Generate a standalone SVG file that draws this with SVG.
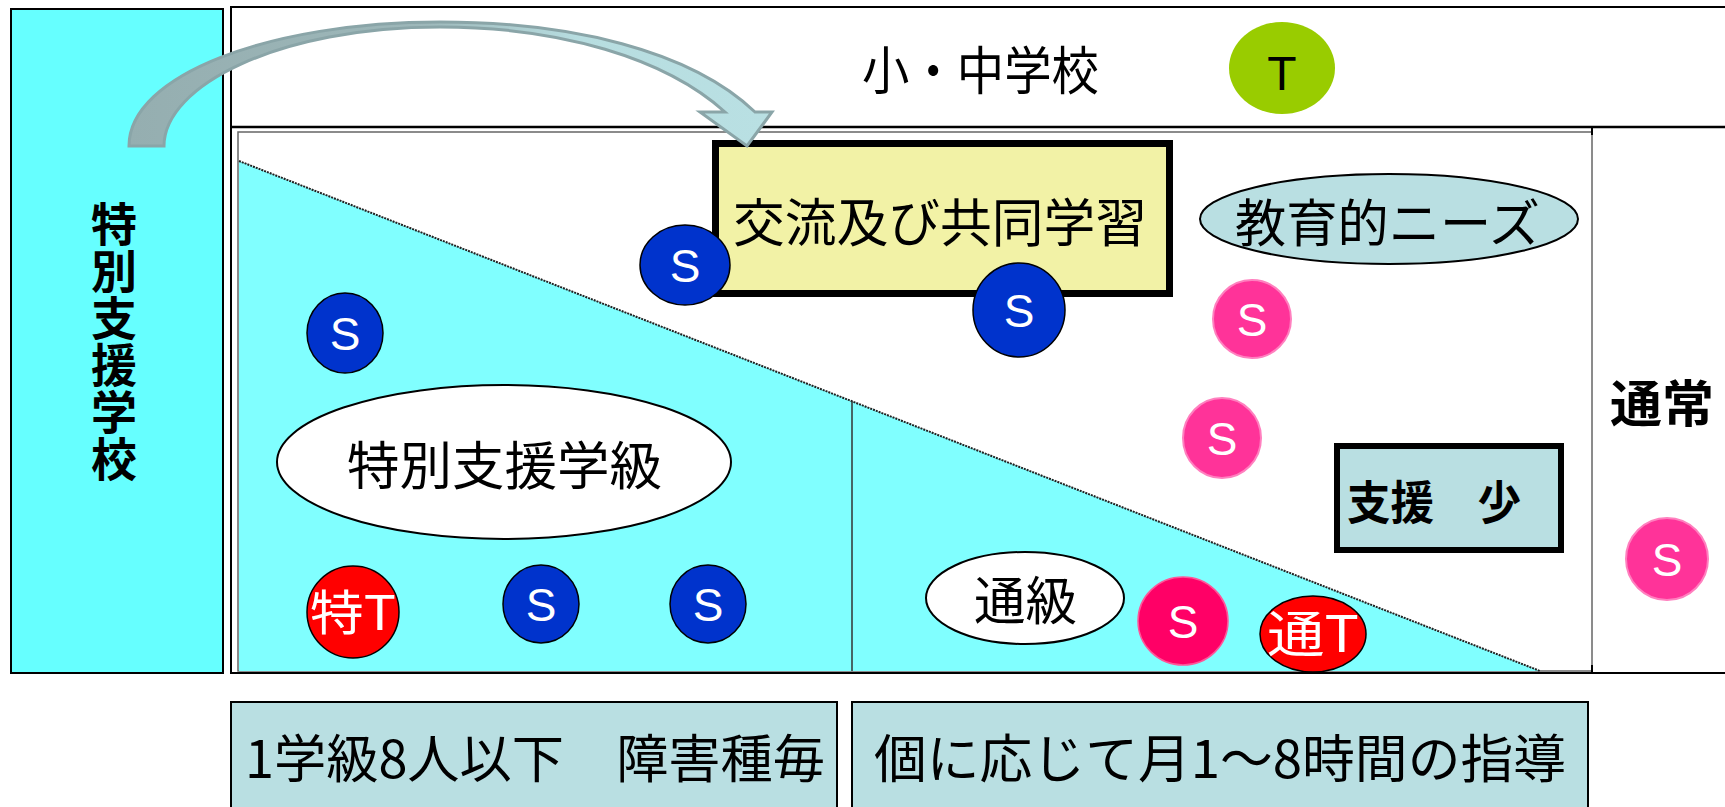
<svg xmlns="http://www.w3.org/2000/svg" width="1725" height="807" viewBox="0 0 1725 807">
<defs>
<style>
.jp{font-family:"Noto Sans CJK JP","Noto Sans CJK SC",sans-serif;fill:#000}
.jpb{font-family:"Noto Sans CJK JP","Noto Sans CJK SC",sans-serif;font-weight:bold;fill:#000}
.s{font-family:"Liberation Sans",Arial,sans-serif;font-size:46px;fill:#fff;text-anchor:middle}
.blue{fill:#0033CC;stroke:#000;stroke-width:1.5}
.pink{fill:#FF3399;stroke:#FF80BF;stroke-width:2}
.red{fill:#FF0000;stroke:#000;stroke-width:1.5}
.lb{fill:#B9DFE2;stroke:#000}
</style>
<linearGradient id="arrowGrad" x1="129" y1="0" x2="772" y2="0" gradientUnits="userSpaceOnUse">
<stop offset="0" stop-color="#95AEB0"/>
<stop offset="0.45" stop-color="#9DB7B9"/>
<stop offset="0.7" stop-color="#B7DDE0"/>
<stop offset="1" stop-color="#B9E0E3"/>
</linearGradient>
</defs>

<rect width="1725" height="807" fill="#fff"/>

<g id="special-school">
<rect x="11" y="9" width="212" height="664" fill="#66FFFF" stroke="#000" stroke-width="2"/>
<text class="jpb" x="114" y="201" font-size="46" writing-mode="vertical-rl" letter-spacing="1">特別支援学校</text>
</g>

<g id="school-frame">
<rect x="231" y="7" width="1510" height="666" fill="#fff" stroke="#000" stroke-width="2"/>
<line x1="231" y1="127" x2="1725" y2="127" stroke="#000" stroke-width="2.5"/>
<rect x="238" y="132" width="1354" height="539" fill="none" stroke="#666" stroke-width="1.5"/>
<line x1="1592" y1="127" x2="1592" y2="135" stroke="#000" stroke-width="2"/>
<line x1="1592" y1="665" x2="1592" y2="673" stroke="#000" stroke-width="2"/>
</g>

<g id="elementary-junior-high">
<text class="jp" x="862" y="90" font-size="52" textLength="237" lengthAdjust="spacingAndGlyphs">小・中学校</text>
</g>

<g id="teacher-T">
<ellipse cx="1282" cy="68" rx="53" ry="46" fill="#99CC00"/>
<text x="1282" y="90" font-family="Liberation Sans, Arial, sans-serif" font-size="48" text-anchor="middle" fill="#000">T</text>
</g>

<g id="special-area">
<polygon points="239,161 1540,671 239,671" fill="#80FFFF"/>
<line x1="239" y1="161" x2="1540" y2="671" stroke="#222" stroke-width="2" stroke-dasharray="2,1"/>
<line x1="852" y1="401" x2="852" y2="671" stroke="#333" stroke-width="1.5"/>
</g>

<g id="exchange-learning">
<rect x="715.5" y="143.5" width="454" height="150" fill="#F2F2A6" stroke="#000" stroke-width="7"/>
<text class="jp" x="733" y="242" font-size="52" textLength="414" lengthAdjust="spacingAndGlyphs">交流及び共同学習</text>
</g>

<g id="needs">
<ellipse cx="1389" cy="219" rx="189" ry="45" class="lb" stroke-width="2"/>
<text class="jp" x="1235" y="242" font-size="51" textLength="305" lengthAdjust="spacingAndGlyphs">教育的ニーズ</text>
</g>

<g id="special-class">
<ellipse cx="504" cy="462" rx="227" ry="77" fill="#fff" stroke="#000" stroke-width="2"/>
<text class="jp" x="347" y="485" font-size="52" textLength="315" lengthAdjust="spacingAndGlyphs">特別支援学級</text>
</g>

<g id="resource-room">
<ellipse cx="1025" cy="598" rx="99" ry="46" fill="#fff" stroke="#000" stroke-width="2"/>
<text class="jp" x="974" y="620" font-size="52" textLength="103" lengthAdjust="spacingAndGlyphs">通級</text>
</g>

<g id="less-support">
<rect x="1337" y="446" width="224" height="104" class="lb" stroke-width="6"/>
<text class="jpb" x="1347" y="519" font-size="46" textLength="174" lengthAdjust="spacingAndGlyphs">支援　少</text>
</g>

<g id="regular">
<text class="jpb" x="1610" y="422" font-size="50" textLength="104" lengthAdjust="spacingAndGlyphs">通常</text>
</g>

<g id="student-s1"><ellipse cx="685" cy="265" rx="45" ry="40" class="blue"/><text class="s" x="685" y="282">S</text></g>
<g id="student-s2"><ellipse cx="1019" cy="310" rx="46" ry="47" class="blue"/><text class="s" x="1019" y="327">S</text></g>
<g id="student-s3"><ellipse cx="345" cy="333" rx="38" ry="40" class="blue"/><text class="s" x="345" y="350">S</text></g>
<g id="student-s4"><ellipse cx="541" cy="604" rx="38" ry="39" class="blue"/><text class="s" x="541" y="621">S</text></g>
<g id="student-s5"><ellipse cx="708" cy="604" rx="38" ry="39" class="blue"/><text class="s" x="708" y="621">S</text></g>

<g id="teacher-special"><ellipse cx="353" cy="612" rx="46" ry="46" class="red"/><text class="jp" x="353" y="630" font-size="48" text-anchor="middle" style="fill:#fff" textLength="86" lengthAdjust="spacingAndGlyphs">特T</text></g>

<g id="student-p1"><ellipse cx="1252" cy="319" rx="39" ry="39" class="pink"/><text class="s" x="1252" y="336">S</text></g>
<g id="student-p2"><ellipse cx="1222" cy="438" rx="39" ry="40" class="pink"/><text class="s" x="1222" y="455">S</text></g>
<g id="student-p3"><ellipse cx="1667" cy="559" rx="41" ry="41" class="pink"/><text class="s" x="1667" y="576">S</text></g>
<g id="student-p4"><ellipse cx="1183" cy="621" rx="45" ry="44" fill="#FF0066" stroke="#FF5599" stroke-width="1.5"/><text class="s" x="1183" y="638">S</text></g>

<g id="teacher-resource"><ellipse cx="1313" cy="634" rx="53" ry="38" class="red"/><text class="jp" x="1313" y="652" font-size="50" text-anchor="middle" style="fill:#fff" textLength="92" lengthAdjust="spacingAndGlyphs">通T</text></g>

<g id="note-class">
<rect x="231" y="702" width="606" height="120" class="lb" stroke-width="2"/>
<text class="jp" x="245" y="778" font-size="52" textLength="580" lengthAdjust="spacingAndGlyphs">1学級8人以下　障害種毎</text>
</g>

<g id="note-resource">
<rect x="852" y="702" width="736" height="120" class="lb" stroke-width="2"/>
<text class="jp" x="874" y="778" font-size="52" textLength="692" lengthAdjust="spacingAndGlyphs">個に応じて月1～8時間の指導</text>
</g>

<g id="connectors">
<path d="M129,146 C129,75 270,22 440,22 C570,22 690,50 755,112 L772,112 L747,146 L700,112 L725,112 C665,58 560,27 440,27 C280,27 164,85 164,146 Z" fill="url(#arrowGrad)" stroke="#8AA5A8" stroke-width="3" stroke-linejoin="miter"/>
</g>
</svg>
